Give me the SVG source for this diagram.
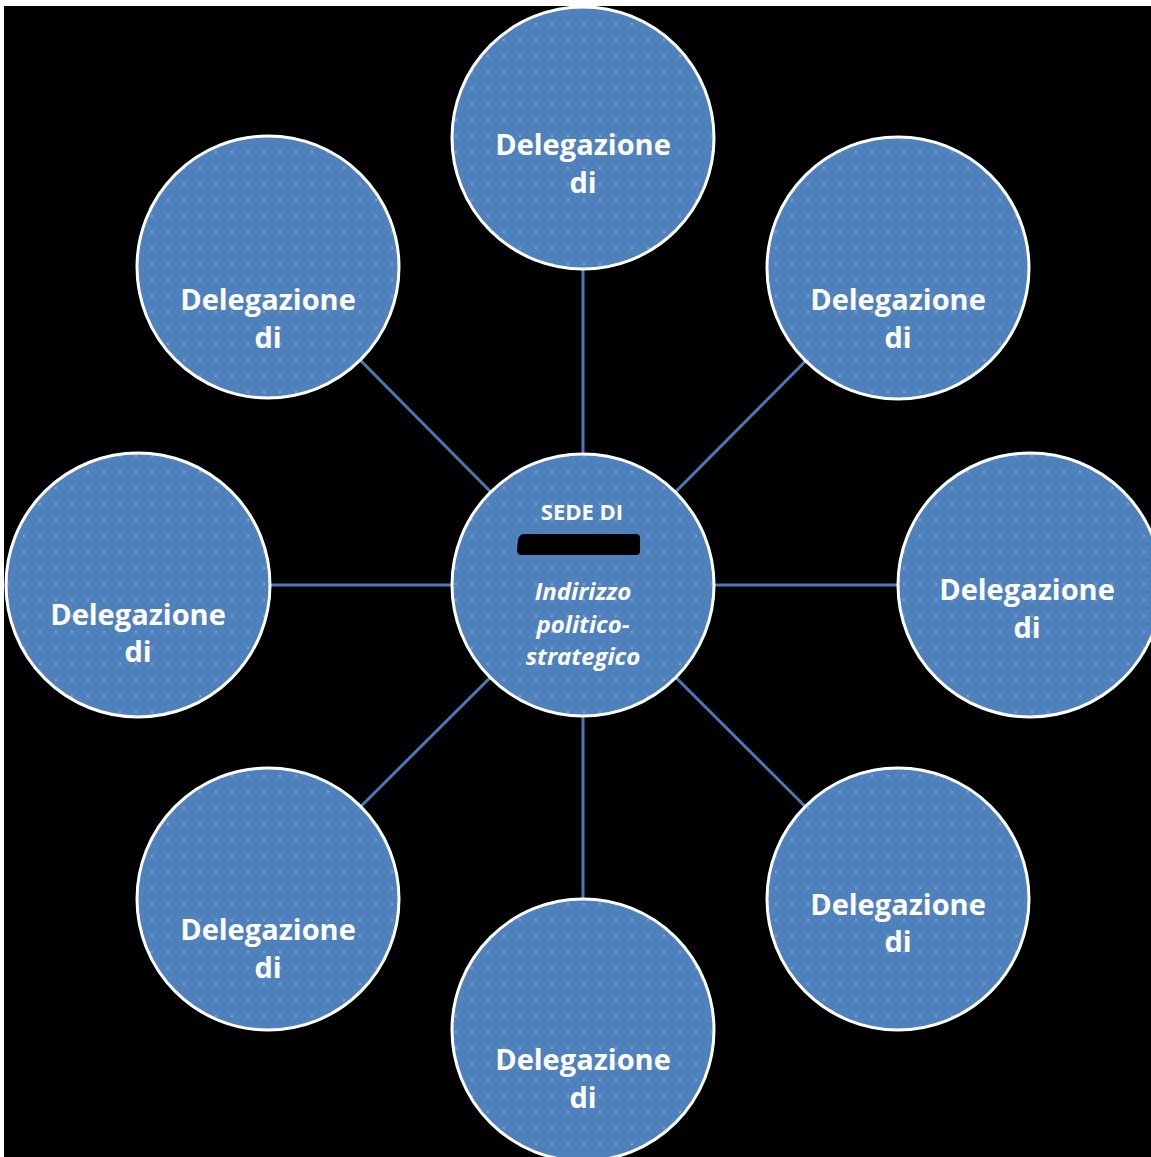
<svg xmlns="http://www.w3.org/2000/svg" width="1151" height="1157" viewBox="0 0 1151 1157">
<defs>
<pattern id="dots" width="16" height="16" patternUnits="userSpaceOnUse">
<rect width="16" height="16" fill="#4f81bd"/>
<circle cx="8" cy="8" r="1.2" fill="#7ea3d3"/>
</pattern>
<style>
.node circle{fill:url(#dots);stroke:#ffffff;stroke-width:3}
.lbl{font-family:"Open Sans","Noto Sans",sans-serif;font-weight:700;font-size:29px;fill:#ffffff;text-anchor:middle}
.sede{font-family:"Open Sans","Noto Sans",sans-serif;font-weight:700;font-size:22px;fill:#ffffff;text-anchor:middle}
.it{font-family:"Open Sans","Noto Sans",sans-serif;font-style:italic;font-weight:700;font-size:24px;fill:#ffffff;text-anchor:middle}
#connectors line{stroke:#4a78b5;stroke-width:3}
</style>
</defs>
<rect width="1151" height="1157" fill="#ffffff"/>
<rect x="4" y="6" width="1147" height="1151" fill="#000000"/>
<g id="connectors">
<line x1="583" y1="585" x2="583" y2="138"/>
<line x1="583" y1="585" x2="898" y2="268"/>
<line x1="583" y1="585" x2="1030" y2="585"/>
<line x1="583" y1="585" x2="898" y2="899"/>
<line x1="583" y1="585" x2="583" y2="1030"/>
<line x1="583" y1="585" x2="268" y2="899"/>
<line x1="583" y1="585" x2="138" y2="585"/>
<line x1="583" y1="585" x2="268" y2="267"/>
</g>
<g id="node-top" class="node"><circle cx="583" cy="138" r="131"/><text class="lbl" x="583" y="155">Delegazione</text><text class="lbl" x="583" y="193">di</text></g>
<g id="node-top-right" class="node"><circle cx="898" cy="268" r="131"/><text class="lbl" x="898" y="310">Delegazione</text><text class="lbl" x="898" y="348">di</text></g>
<g id="node-right" class="node"><circle cx="1030" cy="585" r="132"/><text class="lbl" x="1027" y="600">Delegazione</text><text class="lbl" x="1027" y="638">di</text></g>
<g id="node-bottom-right" class="node"><circle cx="898" cy="899" r="131"/><text class="lbl" x="898" y="915">Delegazione</text><text class="lbl" x="898" y="952">di</text></g>
<g id="node-bottom" class="node"><circle cx="583" cy="1030" r="131"/><text class="lbl" x="583" y="1070">Delegazione</text><text class="lbl" x="583" y="1108">di</text></g>
<g id="node-bottom-left" class="node"><circle cx="268" cy="899" r="131"/><text class="lbl" x="268" y="940">Delegazione</text><text class="lbl" x="268" y="978">di</text></g>
<g id="node-left" class="node"><circle cx="138" cy="585" r="132"/><text class="lbl" x="138" y="625">Delegazione</text><text class="lbl" x="138" y="662">di</text></g>
<g id="node-top-left" class="node"><circle cx="268" cy="267" r="131"/><text class="lbl" x="268" y="310">Delegazione</text><text class="lbl" x="268" y="348">di</text></g>
<g id="node-center" class="node"><circle cx="583" cy="585" r="131"/>
<text class="sede" x="582" y="520">SEDE DI</text>
<path d="M524 534 L636 534 Q640 534 640 538 L640 551 Q640 555 636 555 L522 555 Q517 555 517 550 L518 540 Q519 534 524 534 Z" fill="#000000"/>
<text class="it" x="583" y="600">Indirizzo</text>
<text class="it" x="583" y="633">politico-</text>
<text class="it" x="583" y="665">strategico</text>
</g>
</svg>
